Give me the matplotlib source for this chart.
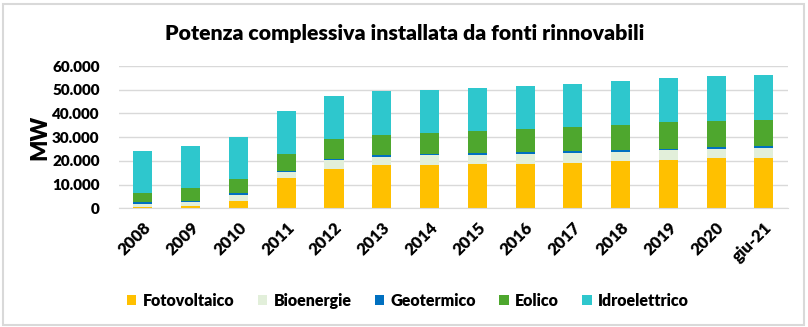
import numpy as np
import matplotlib.pyplot as plt
from matplotlib.patches import Rectangle

# Installed renewable capacity in Italy (MW)
periods = ['2008', '2009', '2010', '2011', '2012', '2013', '2014',
           '2015', '2016', '2017', '2018', '2019', '2020', 'giu-21']
fotovoltaico = [430, 1140, 3200, 12650, 16440, 18130, 18250,
                18550, 18800, 19220, 19810, 20360, 21080, 21330]
bioenergie = [1400, 1400, 2420, 2500, 3790, 3510, 4090,
              4000, 4050, 4050, 4050, 4050, 4050, 4100]
geotermico = [700, 700, 700, 700, 700, 700, 700,
              700, 750, 750, 750, 750, 750, 750]
eolico = [3790, 5320, 5900, 6910, 8160, 8690, 8580,
          9210, 9700, 10130, 10380, 11100, 11050, 11170]
idroelettrico = [17830, 17580, 17970, 18260, 18380, 18420, 18380,
                 18380, 18390, 18380, 18810, 18670, 18850, 18970]

series = [
    ('Fotovoltaico', fotovoltaico, '#FFC000'),
    ('Bioenergie', bioenergie, '#E2EFDA'),
    ('Geotermico', geotermico, '#0070C0'),
    ('Eolico', eolico, '#4EA72E'),
    ('Idroelettrico', idroelettrico, '#2EC7CD'),
]

W = 'heavy'
plt.rcParams['font.family'] = ['Lato', 'DejaVu Sans']
plt.rcParams['font.weight'] = W

fig = plt.figure(figsize=(8.08, 3.27), dpi=100)
ax = fig.add_axes([0.1473, 0.363, 0.8277, 0.435])

x = np.arange(len(periods))
bottom = np.zeros(len(periods))
for name, vals, color in series:
    vals = np.array(vals, dtype=float)
    ax.bar(x, vals, bottom=bottom, width=0.40, color=color, label=name, zorder=2)
    bottom += vals

ax.set_xlim(-0.5, len(periods) - 0.5)
ax.set_ylim(0, 60000)
ax.set_yticks(np.arange(0, 60001, 10000))
ax.set_yticklabels(['0' if v == 0 else f'{v // 1000}.000' for v in range(0, 60001, 10000)],
                   fontsize=11, fontweight=W)
ax.yaxis.grid(True, color='#d9d9d9', linewidth=1, zorder=0)
ax.set_axisbelow(True)
for side in ['top', 'right', 'left']:
    ax.spines[side].set_visible(False)
ax.spines['bottom'].set_color('#d9d9d9')
ax.tick_params(axis='both', length=0)
ax.tick_params(axis='y', pad=14)

ax.set_xticks(x)
ax.set_xticklabels(periods, rotation=45, ha='right', rotation_mode='anchor',
                   fontsize=12, fontweight=W)
ax.tick_params(axis='x', pad=8)

ax.set_ylabel('MW', fontsize=16, fontweight=W, labelpad=1)

fig.text(0.501, 0.898, 'Potenza complessiva installata da fonti rinnovabili',
         ha='center', va='center', fontsize=15.3, fontweight=W)

leg = fig.legend(loc='center', bbox_to_anchor=(0.505, 0.081), ncol=5, frameon=False,
                 fontsize=11.5, handlelength=0.6, handleheight=0.6,
                 handletextpad=0.4, columnspacing=1.45)

# light frame around the chart
fig.patches.append(Rectangle((0.004, 0.006), 0.991, 0.982, transform=fig.transFigure,
                             fill=False, edgecolor='#d9d9d9', linewidth=1.5))

fig.savefig('out.png', dpi=100)
